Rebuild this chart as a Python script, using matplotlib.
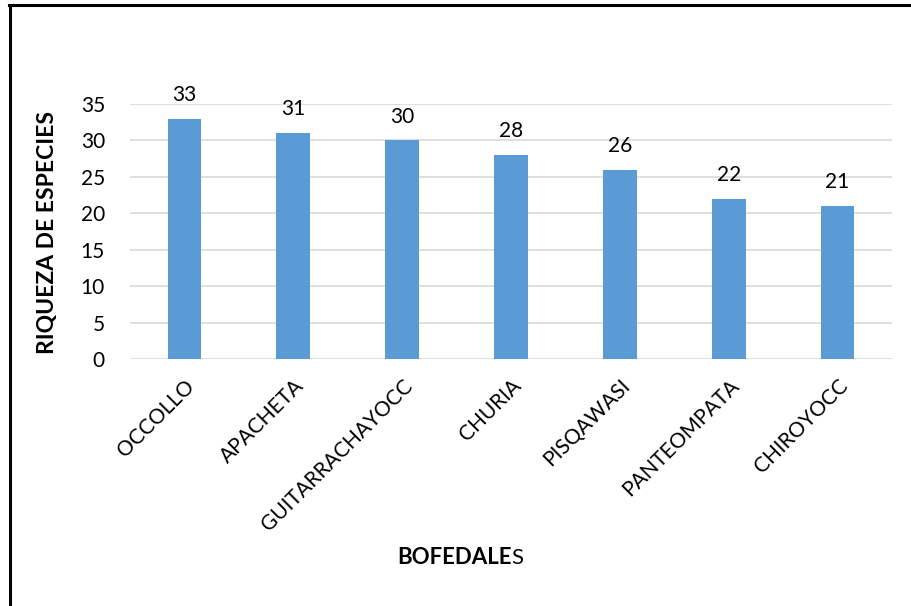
import matplotlib
matplotlib.use("Agg")
from matplotlib import pyplot as plt
from matplotlib.lines import Line2D

bofedales = ["OCCOLLO", "APACHETA", "GUITARRACHAYOCC", "CHURIA",
             "PISQAWASI", "PANTEOMPATA", "CHIROYOCC"]
riqueza = [33, 31, 30, 28, 26, 22, 21]
y_ticks = [0, 5, 10, 15, 20, 25, 30, 35]

BAR = "#5b9bd5"
GRID = "#d9d9d9"
INK = "#000000"

plt.rcParams["font.family"] = ["Lato", "DejaVu Sans"]

W, H = 912, 606
fig = plt.figure(figsize=(W / 100, H / 100), dpi=100)
ax = fig.add_axes([130 / W, 1 - 359 / H, (892 - 130) / W, (359 - 104) / H])

x = range(len(bofedales))
bars = ax.bar(x, riqueza, width=0.31, color=BAR, zorder=3)
for rect, v in zip(bars, riqueza):
    ax.annotate(str(v), (rect.get_x() + rect.get_width() / 2, v),
                textcoords="offset points", xytext=(0, 10),
                ha="center", va="bottom", fontsize=15, color=INK)

ax.set_xlim(-0.5, len(bofedales) - 0.5)
ax.set_ylim(0, 35)
ax.set_yticks(y_ticks)
ax.set_yticklabels([str(t) for t in y_ticks], fontsize=15)
ax.set_xticks(list(x))
ax.set_xticklabels(bofedales, rotation=45, ha="right", rotation_mode="anchor",
                   fontsize=15)
ax.tick_params(length=0, colors=INK)
ax.tick_params(axis="y", pad=18)
ax.tick_params(axis="x", pad=12)
ax.yaxis.grid(True, color=GRID, lw=1.2, zorder=0)
for s in ax.spines.values():
    s.set_visible(False)

fig.text(48 / W, 1 - 233 / H, "RIQUEZA DE ESPECIES", rotation=90,
         ha="center", va="center", fontsize=16.5, fontweight="bold", color=INK)
lab = fig.text(397 / W, 1 - 558 / H, "BOFEDALE", ha="left", va="center",
               fontsize=16, fontweight="bold", color=INK)
fig.canvas.draw()
ax.annotate("S", xy=(1, 0), xycoords=lab, ha="left", va="bottom",
            fontsize=16, color=INK)

# outer chart frame (left and top edges visible)
fig.add_artist(Line2D([10 / W, 10 / W], [0, 1 - 5 / H], transform=fig.transFigure,
                      color=INK, lw=2.2))
fig.add_artist(Line2D([9 / W, 1], [1 - 5 / H, 1 - 5 / H], transform=fig.transFigure,
                      color=INK, lw=2.2))

fig.savefig("out.png", facecolor="white")
